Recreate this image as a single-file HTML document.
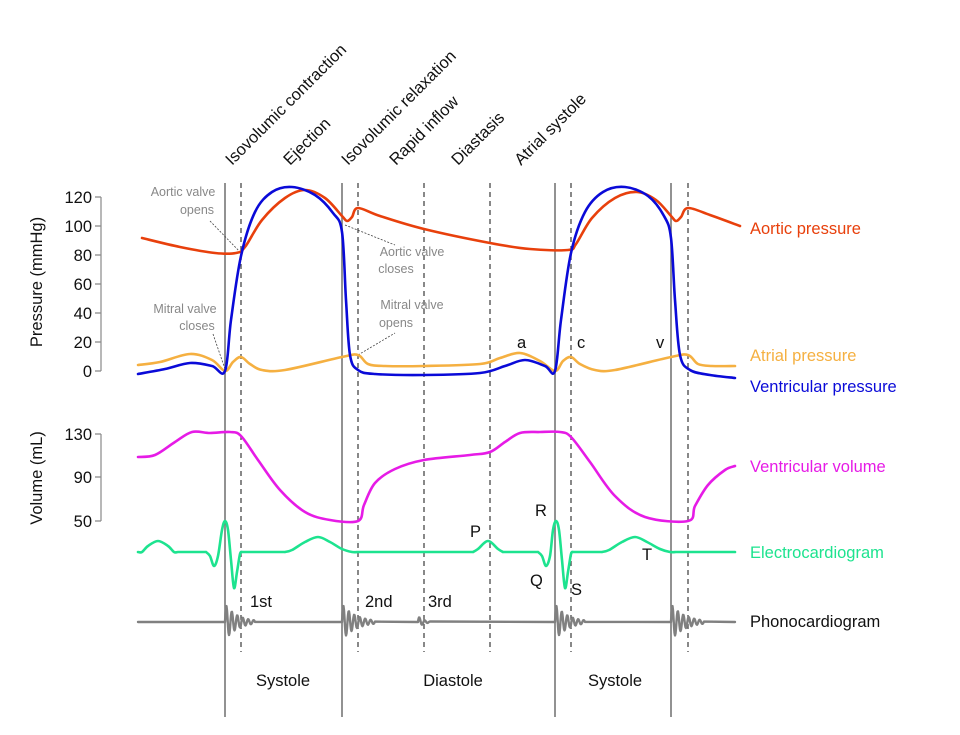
<!DOCTYPE html>
<html><head><meta charset="utf-8"><style>
html,body{margin:0;padding:0;background:#fff}
svg{display:block}
text{font-family:"Liberation Sans","DejaVu Sans",sans-serif}
</style></head><body>
<svg id="s" width="960" height="735" viewBox="0 0 960 735" xmlns="http://www.w3.org/2000/svg">
<g stroke="#777" stroke-width="1.6">
<line x1="225" y1="183" x2="225" y2="717"/><line x1="342" y1="183" x2="342" y2="717"/>
<line x1="555" y1="183" x2="555" y2="717"/><line x1="671" y1="183" x2="671" y2="717"/>
</g>
<g stroke="#555" stroke-width="1.4" stroke-dasharray="5,4">
<line x1="241" y1="183" x2="241" y2="652"/><line x1="358" y1="183" x2="358" y2="652"/>
<line x1="424" y1="183" x2="424" y2="652"/><line x1="490" y1="183" x2="490" y2="652"/>
<line x1="571" y1="183" x2="571" y2="652"/><line x1="688" y1="183" x2="688" y2="652"/>
</g>
<g stroke="#888" stroke-width="1.2" fill="none">
<path d="M101 197V371M95 197H101M95 226H101M95 255H101M95 284H101M95 313H101M95 342H101M95 371H101"/>
<path d="M101 434V521M95 434H101M95 477H101M95 521H101"/>
</g>
<g font-size="16.5" fill="#111" text-anchor="end">
<text x="92" y="203">120</text><text x="92" y="232">100</text><text x="92" y="261">80</text><text x="92" y="290">60</text><text x="92" y="319">40</text><text x="92" y="348">20</text><text x="92" y="377">0</text>
<text x="92" y="440">130</text><text x="92" y="483">90</text><text x="92" y="527">50</text>
</g>
<text font-size="16.5" fill="#111" text-anchor="middle" transform="translate(42,282) rotate(-90)">Pressure (mmHg)</text>
<text font-size="16.5" fill="#111" text-anchor="middle" transform="translate(42,478) rotate(-90)">Volume (mL)</text>
<g font-size="16.5" fill="#111">
<text transform="translate(232,166) rotate(-45)">Isovolumic contraction</text>
<text transform="translate(290,166) rotate(-45)">Ejection</text>
<text transform="translate(348,166) rotate(-45)">Isovolumic relaxation</text>
<text transform="translate(396,166) rotate(-45)">Rapid inflow</text>
<text transform="translate(458,166) rotate(-45)">Diastasis</text>
<text transform="translate(521,166) rotate(-45)">Atrial systole</text>
</g>
<g font-size="12.5" fill="#888" text-anchor="middle">
<text x="183" y="196">Aortic valve</text><text x="197" y="214">opens</text>
<text x="412" y="256">Aortic valve</text><text x="396" y="273">closes</text>
<text x="185" y="313">Mitral valve</text><text x="197" y="330">closes</text>
<text x="412" y="309">Mitral valve</text><text x="396" y="327">opens</text>
</g>
<g stroke="#444" stroke-width="0.8" stroke-dasharray="2,1.5" fill="none">
<path d="M210 221L241 253"/><path d="M345 225L395 245"/><path d="M213 334L225 369"/><path d="M358 355L395 333"/>
</g>
<g id="curves" fill="none" stroke-width="2.6" stroke-linejoin="round" stroke-linecap="round"></g>
<g font-size="16.5" fill="#111">
<text x="517" y="348">a</text><text x="577" y="348">c</text><text x="656" y="348">v</text>
<text x="470" y="537">P</text><text x="535" y="516">R</text><text x="530" y="586">Q</text><text x="571" y="595">S</text><text x="642" y="560">T</text>
<text x="250" y="607">1st</text><text x="365" y="607">2nd</text><text x="428" y="607">3rd</text>
</g>
<g font-size="16.5" fill="#111" text-anchor="middle">
<text x="283" y="686">Systole</text><text x="453" y="686">Diastole</text><text x="615" y="686">Systole</text>
</g>
<g font-size="16.5">
<text x="750" y="234" fill="#e8400c">Aortic pressure</text>
<text x="750" y="361" fill="#f5b041">Atrial pressure</text>
<text x="750" y="392" fill="#0a0ad8">Ventricular pressure</text>
<text x="750" y="472" fill="#e61be6">Ventricular volume</text>
<text x="750" y="558" fill="#1de38f">Electrocardiogram</text>
<text x="750" y="627" fill="#111">Phonocardiogram</text>
</g>
</svg>
<script>
function cr(p){var d="M"+p[0][0]+" "+p[0][1];for(var i=0;i<p.length-1;i++){var a=p[i-1]||p[i],b=p[i],c=p[i+1],e=p[i+2]||c;var t=6;d+=" C"+(b[0]+(c[0]-a[0])/t)+" "+(b[1]+(c[1]-a[1])/t)+" "+(c[0]-(e[0]-b[0])/t)+" "+(c[1]-(e[1]-b[1])/t)+" "+c[0]+" "+c[1];}return d;}
var S={
"#f5b041":[[138,365],[160,362],[190,354],[212,360],[225,371],[233,362],[241,357],[250,364],[262,370],[285,370],[342,357],[358,355],[368,364],[385,366],[424,366],[480,364],[500,358],[520,353],[540,361],[555,371],[563,361],[571,357],[580,364],[595,370],[615,370],[671,357],[688,355],[698,364],[712,366],[735,366]],
"#e8400c":[[142,238],[180,247],[215,253],[236,253],[245,247],[262,220],[285,198],[305,190],[325,198],[342,216],[347,221],[352,217],[358,208],[380,216],[424,229],[490,243],[530,249],[568,250],[576,244],[592,218],[615,198],[637,192],[656,200],[671,216],[676,221],[681,217],[688,208],[710,215],[740,226]],
"#0a0ad8":[[138,374],[165,369],[190,363],[212,366],[225,371],[231,320],[241,256],[255,212],[272,192],[292,187],[315,195],[333,213],[342,232],[346,300],[350,355],[358,370],[375,374],[424,375],[480,373],[505,366],[525,360],[545,366],[555,371],[561,320],[571,253],[585,212],[603,192],[625,187],[648,196],[664,216],[671,238],[675,300],[680,355],[690,370],[710,375],[735,378]],
"#e61be6":[[138,457],[155,455],[175,442],[192,432],[210,433],[230,432],[241,436],[258,460],[280,490],[305,512],[330,520],[358,521],[364,505],[375,483],[395,469],[424,460],[470,455],[490,452],[505,442],[520,433],[540,432],[560,432],[571,437],[590,462],[615,496],[645,517],[688,521],[695,506],[708,485],[725,470],[735,466]]};
var ECG=[
[[138,552],[142,552],[148,546],[158,541],[168,546],[174,552],[178,552]],
[[178,552],[206,552]],
[[206,552],[210,556],[214,566],[218,556],[222,530],[225,521],[228,530],[231,560],[234,588],[237,572],[240,554],[242,552]],
[[242,552],[285,552]],
[[285,552],[292,550],[305,542],[318,537],[330,542],[342,549],[352,552],[358,552]],
[[358,552],[473,552]],
[[473,552],[478,549],[488,541],[498,549],[503,552]],
[[503,552],[538,552]],
[[538,552],[542,556],[546,566],[550,556],[553,530],[556,521],[559,530],[562,560],[565,588],[568,572],[571,554],[573,552]],
[[573,552],[602,552]],
[[602,552],[609,550],[622,542],[635,537],[647,542],[660,549],[670,552],[676,552]],
[[676,552],[735,552]]];
var g=document.getElementById("curves"),ns="http://www.w3.org/2000/svg";
for(var k in S){var p=document.createElementNS(ns,"path");p.setAttribute("d",cr(S[k]));p.setAttribute("stroke",k);g.appendChild(p);}
var ed="";ECG.forEach(function(seg){ed+=cr(seg)+" ";});
var pe=document.createElementNS(ns,"path");pe.setAttribute("d",ed);pe.setAttribute("stroke","#1de38f");g.appendChild(pe);
function burst(x0,w,amp){var d="";for(var i=0;i<=w*2;i+=1){var x=i/2,t=x/w;var a=amp*Math.exp(-2.4*t);var y=622-a*Math.sin(x*1.15);d+="L"+(x0+x)+" "+y.toFixed(1);}return d;}
var ph="M138 622L225 622"+burst(225,30,18)+"L342 622"+burst(342,33,18)+"L418 622"+burst(418,12,6)+"L555 622"+burst(555,30,18)+"L671 622"+burst(671,33,18)+"L735 622";
var q=document.createElementNS(ns,"path");q.setAttribute("d",ph);q.setAttribute("stroke","#808080");q.setAttribute("stroke-width","2.4");g.appendChild(q);
</script>
</body></html>
